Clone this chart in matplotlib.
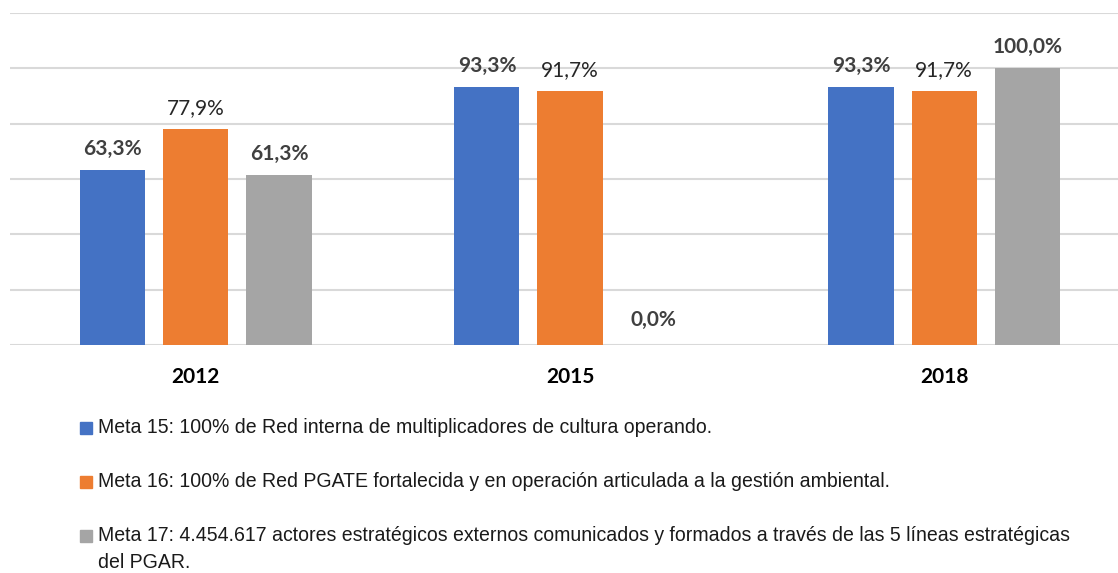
import numpy as np
import matplotlib.pyplot as plt
from matplotlib import font_manager
from matplotlib.patches import Rectangle

years = ['2012', '2015', '2018']
meta15 = [63.3, 93.3, 93.3]
meta16 = [77.9, 91.7, 91.7]
meta17 = [61.3, 0.0, 100.0]
labels = [
    'Meta 15: 100% de Red interna de multiplicadores de cultura operando.',
    'Meta 16: 100% de Red PGATE fortalecida y en operación articulada a la gestión ambiental.',
    'Meta 17: 4.454.617 actores estratégicos externos comunicados y formados a través de las 5 líneas estratégicas\ndel PGAR.',
]
colors = ['#4472C4', '#ED7D31', '#A5A5A5']

# fuente estrecha para la leyenda si existe
try:
    font_manager.findfont('Liberation Sans Narrow', fallback_to_default=False)
    legend_font, legend_size = 'Liberation Sans Narrow', 15
except ValueError:
    legend_font, legend_size = 'Liberation Sans', 14.05

W, H = 1118, 573
fig = plt.figure(figsize=(W / 100, H / 100), dpi=100)
ax = fig.add_axes([10 / W, (H - 345) / H, 1108 / W, (345 - 13) / H])

x = np.arange(len(years))
width = 0.174
step = 0.222
series = [meta15, meta16, meta17]
for i, (vals, col) in enumerate(zip(series, colors)):
    bars = ax.bar(x + (i - 1) * step, vals, width, color=col, zorder=3)
    bold = i != 1
    for bar, v in zip(bars, vals):
        ax.annotate(f'{v:.1f}%'.replace('.', ','),
                    (bar.get_x() + bar.get_width() / 2, v),
                    xytext=(0, 8 if v > 0 else 11), textcoords='offset points',
                    ha='center', va='bottom', fontsize=15, family='Lato',
                    fontweight='bold' if bold else 'normal',
                    color='#404040' if bold else '#262626')

ax.set_ylim(0, 120)
ax.set_xlim(-0.497, 2.465)
ax.set_yticks(np.arange(0, 121, 20))
ax.yaxis.grid(True, color='#d9d9d9', linewidth=1.5, zorder=0)
ax.tick_params(axis='y', left=False, labelleft=False)
ax.tick_params(axis='x', length=0, pad=16)
ax.set_xticks(x)
ax.set_xticklabels(years, fontsize=15, fontweight='bold', family='Lato', color='black')
for s in ax.spines.values():
    s.set_visible(False)

# leyenda manual
y0 = 428
for k, (lab, col) in enumerate(zip(labels, colors)):
    yc = y0 + k * 54
    fig.patches.append(Rectangle((80 / W, 1 - (yc + 6) / H), 12 / W, 12 / H,
                                 transform=fig.transFigure, color=col, figure=fig))
    fig.text(98 / W, 1 - (yc - 10) / H, lab, ha='left', va='top',
             fontsize=legend_size, family=legend_font, color='#1a1a1a',
             linespacing=1.5)

fig.savefig('out.png', dpi=100)
